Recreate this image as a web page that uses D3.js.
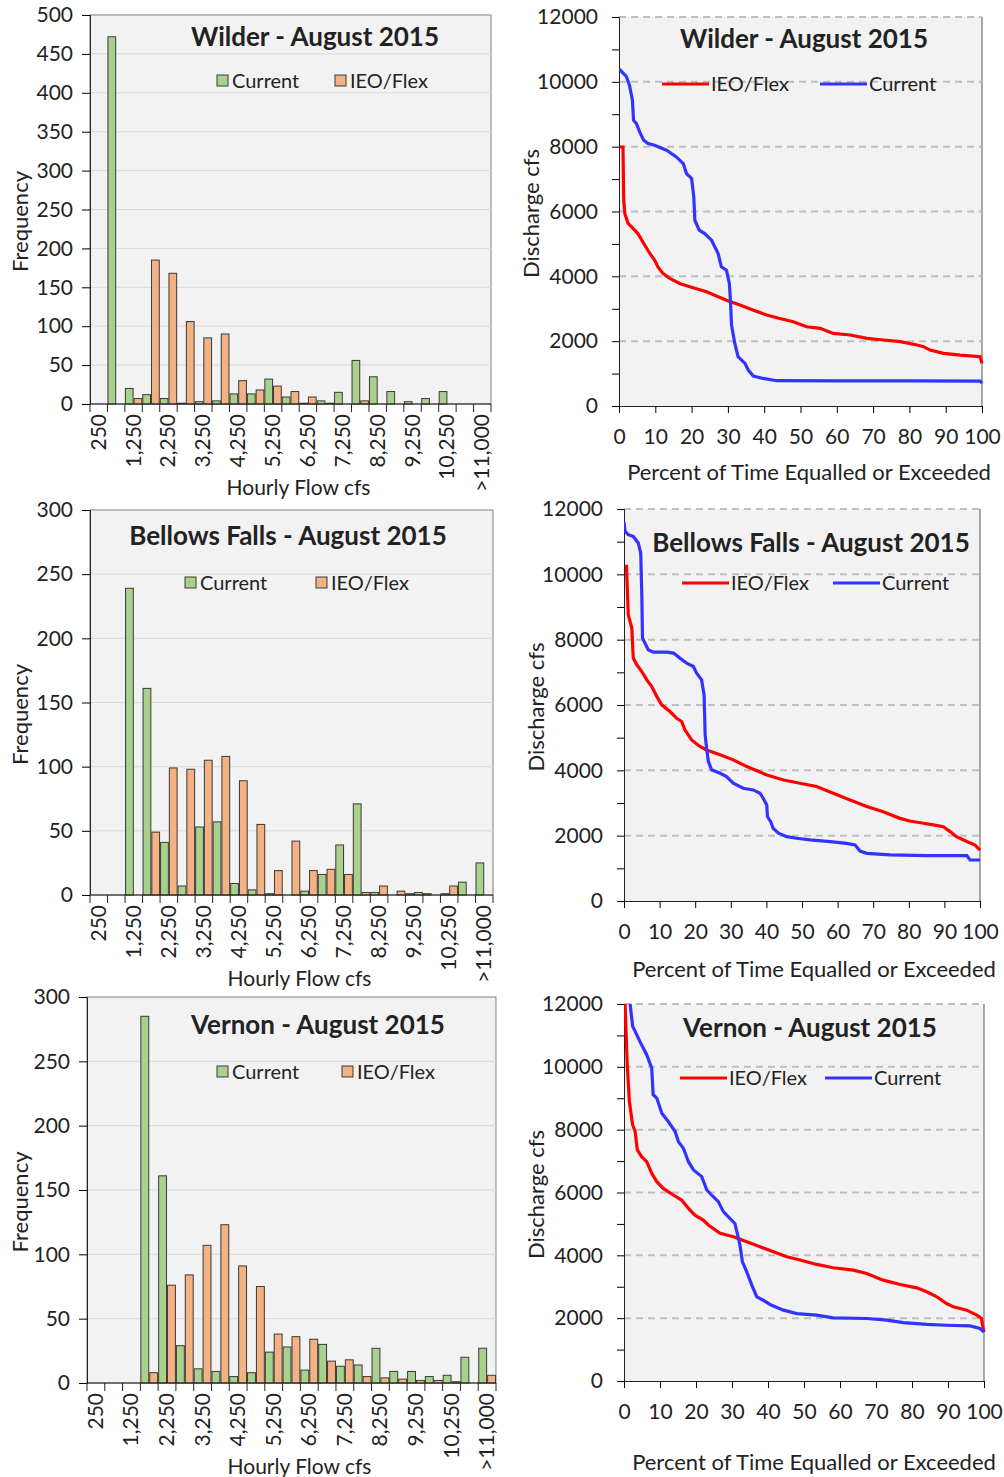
<!DOCTYPE html>
<html>
<head>
<meta charset="utf-8">
<script src="https://cdn.jsdelivr.net/npm/d3@7"></script>
<style>
  body { margin: 0; background: #fff; }
  svg text { font-family: Lato, "Open Sans", sans-serif; fill: #222; }
</style>
</head>
<body>
<script>
// histogram bins (500 cfs wide), labels shown every other bin like Excel does
var binLabels = ["250","750","1,250","1,750","2,250","2,750","3,250","3,750","4,250","4,750",
  "5,250","5,750","6,250","6,750","7,250","7,750","8,250","8,750","9,250","9,750","10,250","10,750",">11,000"];

var wilderCurrent = [0,472,20,12,7,1,3,4,13,13,32,9,1,4,15,56,35,16,3,7,16,0,0];
var wilderIEO     = [0,0,7,185,168,106,85,90,30,18,23,16,9,1,0,4,0,0,0,0,0,0,0];
var bellowsCurrent = [0,0,239,161,41,7,53,57,9,4,1,0,3,16,39,71,2,0,1,1,1,10,25];
var bellowsIEO     = [0,0,0,49,99,98,105,108,89,55,19,42,19,20,16,2,7,3,2,0,7,0,0];
var vernonCurrent = [0,0,0,285,161,29,11,9,5,8,24,28,10,30,13,14,27,9,9,5,6,20,27];
var vernonIEO     = [0,0,0,8,76,84,107,123,91,75,38,36,34,17,18,5,4,3,2,2,1,0,6];

// flow duration curves: [percent of time, discharge cfs]
var wilderDurCurrent = [[0,10400],[2,10170],[2.9,9890],[3.7,9430],[4,8815],[4.8,8710],[5.7,8455],[6.8,8200],
  [8,8095],[9.8,8045],[13.1,7890],[15.8,7685],[17.7,7480],[18.6,7170],[20,7020],[20.6,6450],[20.9,5730],
  [22.1,5425],[23.6,5320],[25.5,5115],[27.3,4705],[28.2,4295],[29.6,4190],[30.4,3780],[30.7,3265],[31,2495],
  [31.9,1930],[32.8,1520],[34.7,1315],[35.6,1110],[37,925],[39.7,850],[43.4,780],[60,775],[80,775],[99.5,770],[100,700]];
var wilderDurIEO = [[0.2,7990],[1.1,7990],[1.3,6350],[1.6,5940],[2.5,5630],[3.4,5530],[5.2,5320],[7.1,4960],
  [8.5,4705],[9.8,4500],[10.7,4295],[12.1,4090],[14,3935],[16.7,3780],[19.5,3680],[24.1,3525],[29.6,3265],
  [33.3,3115],[36.9,2960],[40.7,2805],[44.3,2700],[48,2600],[51.7,2445],[55.4,2395],[59,2240],[63.7,2190],
  [68.3,2085],[72.9,2035],[77.5,1985],[82.1,1880],[83.9,1830],[85.7,1725],[89.4,1625],[94,1570],[99.5,1520],[100,1315]];

var bellowsDurCurrent = [[0,11600],[0.3,11315],[1.2,11215],[2.6,11160],[4,10960],[4.7,10650],[5,9375],[5.2,8050],
  [5.9,7895],[6.8,7690],[8.2,7620],[12,7620],[13.9,7590],[15.7,7435],[17.6,7280],[19.5,7180],[20.4,6975],
  [21.8,6770],[22.5,6310],[22.8,5085],[23.2,4675],[23.7,4270],[24.6,4015],[27,3910],[28.8,3810],[30.7,3605],
  [33.5,3450],[36.3,3400],[38.2,3300],[39.1,3145],[40.1,2940],[40.3,2585],[41.2,2430],[41.9,2225],[43.4,2075],
  [45.7,1970],[48.5,1920],[52.2,1870],[57.9,1820],[62.5,1765],[64.9,1715],[66.3,1530],[68.2,1460],[74.7,1410],
  [85,1390],[96.3,1390],[97.2,1255],[100,1255]];
var bellowsDurIEO = [[0.3,10245],[0.7,10245],[1.2,8760],[2.2,8355],[2.6,7435],[3.6,7230],[5,7025],[6.4,6770],
  [7.8,6565],[9.2,6260],[10.6,6005],[12.9,5800],[14.8,5595],[16.2,5495],[17.1,5240],[19,4930],[21.3,4730],
  [23.2,4625],[27,4475],[30.7,4320],[34.5,4115],[40.1,3860],[44.8,3705],[49.4,3605],[54.1,3505],[58.8,3300],
  [63.5,3095],[68.2,2890],[72.8,2735],[77.5,2530],[80.3,2450],[84.1,2380],[86.9,2330],[89.7,2275],[91.6,2125],
  [93.4,1970],[96.3,1820],[98.6,1715],[100,1560]];

var vernonDurCurrent = [[1.7,12000],[2.4,11290],[3.1,11130],[4.4,10810],[6.3,10385],[7.7,9960],[8.1,9110],
  [9.1,9005],[10.5,8525],[12.3,8260],[14.2,7940],[15.1,7620],[16.5,7410],[17.9,6980],[19.3,6720],[21.6,6505],
  [23,6080],[24.8,5865],[26.2,5710],[27.6,5390],[29.4,5175],[30.8,5015],[31.8,4540],[32.2,4325],[32.9,3795],
  [34.1,3475],[35.5,3050],[36.9,2680],[38.7,2570],[41,2410],[44.3,2255],[48,2145],[53.5,2095],[58.1,2010],
  [67.4,1990],[73,1935],[77.6,1860],[84.1,1805],[89.6,1775],[96.1,1755],[98.9,1670],[100,1560]];
var vernonDurIEO = [[0.3,12000],[0.9,10065],[1.5,8895],[2.4,8150],[3.1,7940],[3.7,7355],[4.9,7140],[6.3,6985],
  [7.7,6610],[9.1,6345],[10.9,6130],[13.7,5920],[16,5760],[17.9,5495],[19.7,5280],[22,5120],[23.4,4965],
  [26.7,4700],[30.4,4590],[34.1,4430],[37.8,4275],[41.5,4115],[45.2,3955],[48.9,3850],[53.5,3710],[58.1,3605],
  [63.7,3530],[67.4,3420],[72,3210],[76.7,3070],[81.3,2965],[84.1,2840],[86.9,2680],[89.6,2465],[91.5,2360],
  [95.2,2255],[98,2095],[99.3,1990],[99.6,1775],[100,1560]];

var W = 1004, H = 1477;
var green = "#a9d18e", orange = "#f4b183", plotBg = "#f2f2f2";

var svg = d3.select("body").append("svg").attr("width", W).attr("height", H);

function drawHist(o) {
  var g = svg.append("g");
  var x = d3.scaleBand().domain(d3.range(binLabels.length)).range([o.x0, o.x1]).padding(0);
  var y = d3.scaleLinear().domain([0, o.ymax]).range([o.y1, o.y0]);
  var sub = d3.scaleBand().domain([0, 1]).range([0, x.bandwidth()]).padding(0);

  g.append("rect").attr("x", o.x0).attr("y", o.y0).attr("width", o.x1 - o.x0).attr("height", o.y1 - o.y0)
    .attr("fill", plotBg).attr("stroke", "#7f7f7f").attr("stroke-width", 1);

  var yt = d3.range(0, o.ymax + 1, 50);
  g.selectAll(".grid").data(yt.slice(1, -1)).enter().append("line")
    .attr("x1", o.x0).attr("x2", o.x1).attr("y1", d => y(d)).attr("y2", d => y(d))
    .attr("stroke", "#d9d9d9").attr("stroke-width", 1);

  [[o.cur, 0, green], [o.ieo, 1, orange]].forEach(function(s) {
    g.selectAll(null).data(s[0].map((v, i) => ({v: v, i: i})).filter(d => d.v > 0)).enter().append("rect")
      .attr("x", d => x(d.i) + sub(s[1]) + 0.5)
      .attr("y", d => y(d.v))
      .attr("width", sub.bandwidth() - 1)
      .attr("height", d => y(0) - y(d.v))
      .attr("fill", s[2]).attr("stroke", "#3a3a3a").attr("stroke-width", 1);
  });

  var ya = g.append("g").attr("transform", "translate(" + o.x0 + ",0)")
    .call(d3.axisLeft(y).tickValues(yt).tickSize(8).tickPadding(9));
  ya.selectAll("text").attr("font-size", 21);
  ya.select(".domain").attr("stroke", "#222");

  // x axis: ticks on bin edges, labels on every other bin
  g.append("line").attr("x1", o.x0).attr("x2", o.x1).attr("y1", o.y1).attr("y2", o.y1).attr("stroke", "#222").attr("stroke-width", 1.2);
  var edges = d3.range(binLabels.length + 1).map(i => i < binLabels.length ? x(i) : o.x1);
  g.selectAll(null).data(edges).enter().append("line")
    .attr("x1", d => d).attr("x2", d => d).attr("y1", o.y1).attr("y2", o.y1 + 8).attr("stroke", "#222");
  g.selectAll(null).data(binLabels.map((l, i) => ({l: l, i: i})).filter(d => d.i % 2 === 0)).enter().append("text")
    .attr("transform", d => "translate(" + (x(d.i) + x.bandwidth() / 2 + 7) + "," + (o.y1 + 10) + ") rotate(-90)")
    .attr("text-anchor", "end").attr("font-size", 21).text(d => d.l);

  g.append("text").attr("x", (o.x0 + o.x1) / 2 + 8).attr("y", o.y1 + 91).attr("text-anchor", "middle")
    .attr("font-size", 21).text("Hourly Flow cfs");
  g.append("text").attr("transform", "translate(28," + ((o.y0 + o.y1) / 2 + 12) + ") rotate(-90)")
    .attr("text-anchor", "middle").attr("font-size", 22).text("Frequency");

  g.append("text").attr("x", o.tx).attr("y", o.y0 + o.ty).attr("text-anchor", "middle")
    .attr("font-size", 26).attr("font-weight", "bold").text(o.title);

  // legend
  var ly = o.y0 + o.ly;
  [[green, "Current", o.lg], [orange, "IEO/Flex", o.lo]].forEach(function(e) {
    g.append("rect").attr("x", e[2]).attr("y", ly - 13).attr("width", 11).attr("height", 11)
      .attr("fill", e[0]).attr("stroke", "#3a3a3a");
    g.append("text").attr("x", e[2] + 15).attr("y", ly).attr("font-size", 20).text(e[1]);
  });
}

function drawDur(o) {
  var g = svg.append("g");
  var x = d3.scaleLinear().domain([0, 100]).range([o.x0, o.x1]);
  var y = d3.scaleLinear().domain([0, 12000]).range([o.y1, o.y0]);

  g.append("rect").attr("x", o.x0).attr("y", o.y0).attr("width", o.x1 - o.x0).attr("height", o.y1 - o.y0)
    .attr("fill", plotBg);
  g.append("line").attr("x1", o.x1).attr("x2", o.x1).attr("y1", o.y0).attr("y2", o.y1).attr("stroke", "#595959");
  g.selectAll(null).data(d3.range(2000, 12001, 2000)).enter().append("line")
    .attr("x1", o.x0).attr("x2", o.x1).attr("y1", d => y(d)).attr("y2", d => y(d))
    .attr("stroke", "#bfbfbf").attr("stroke-width", 2).attr("stroke-dasharray", "7,5");

  var ya = g.append("g").attr("transform", "translate(" + o.x0 + ",0)")
    .call(d3.axisLeft(y).tickValues(d3.range(0, 12001, 1000)).tickSize(7).tickPadding(14)
      .tickFormat(d => d % 2000 === 0 ? d : ""));
  ya.selectAll("text").attr("font-size", 21);
  var xa = g.append("g").attr("transform", "translate(0," + o.y1 + ")")
    .call(d3.axisBottom(x).tickValues(d3.range(0, 101, 10)).tickSize(7).tickPadding(16));
  xa.selectAll("text").attr("font-size", 21);
  g.selectAll(".domain").attr("stroke", "#222");

  var clipId = "c" + o.id;
  svg.append("clipPath").attr("id", clipId).append("rect")
    .attr("x", o.x0).attr("y", o.y0 - 2).attr("width", o.x1 - o.x0 + 3).attr("height", o.y1 - o.y0 + 2);
  var line = d3.line().x(d => x(d[0])).y(d => y(d[1]));
  g.append("path").datum(o.ieo).attr("d", line).attr("fill", "none").attr("stroke", "#ff0000")
    .attr("stroke-width", 3.2).attr("clip-path", "url(#" + clipId + ")");
  g.append("path").datum(o.cur).attr("d", line).attr("fill", "none").attr("stroke", "#3333ff")
    .attr("stroke-width", 3.2).attr("clip-path", "url(#" + clipId + ")");

  g.append("text").attr("x", o.tx).attr("y", o.y0 + o.ty).attr("text-anchor", "middle")
    .attr("font-size", 26).attr("font-weight", "bold").text(o.title);

  var ly = o.y0 + o.ly;
  [["#ff0000", "IEO/Flex", o.lr], ["#3333ff", "Current", o.lb]].forEach(function(e) {
    g.append("line").attr("x1", e[2]).attr("x2", e[2] + 47).attr("y1", ly - 7).attr("y2", ly - 7)
      .attr("stroke", e[0]).attr("stroke-width", 3);
    g.append("text").attr("x", e[2] + 49).attr("y", ly).attr("font-size", 20).text(e[1]);
  });

  g.append("text").attr("x", o.x0 + 190).attr("y", o.axy).attr("text-anchor", "middle")
    .attr("font-size", 22).text("Percent of Time Equalled or Exceeded");
  g.append("text").attr("transform", "translate(" + (o.x0 - 80) + "," + ((o.y0 + o.y1) / 2 + 2) + ") rotate(-90)")
    .attr("text-anchor", "middle").attr("font-size", 22).text("Discharge cfs");
}

drawHist({x0: 90, x1: 491, y0: 15, y1: 404, ymax: 500, cur: wilderCurrent, ieo: wilderIEO,
  title: "Wilder - August 2015", tx: 315, ty: 31, ly: 73, lg: 217, lo: 335});
drawHist({x0: 90, x1: 493, y0: 510, y1: 895, ymax: 300, cur: bellowsCurrent, ieo: bellowsIEO,
  title: "Bellows Falls - August 2015", tx: 288, ty: 35, ly: 80, lg: 185, lo: 316});
drawHist({x0: 87, x1: 496, y0: 997, y1: 1383, ymax: 300, cur: vernonCurrent, ieo: vernonIEO,
  title: "Vernon - August 2015", tx: 318, ty: 37, ly: 82, lg: 217, lo: 342});

drawDur({id: 1, x0: 619, x1: 982, y0: 17, y1: 406, cur: wilderDurCurrent, ieo: wilderDurIEO,
  title: "Wilder - August 2015", tx: 804, ty: 31, ly: 74, lr: 662, lb: 820, axy: 480});
drawDur({id: 2, x0: 624, x1: 980, y0: 509, y1: 901, cur: bellowsDurCurrent, ieo: bellowsDurIEO,
  title: "Bellows Falls - August 2015", tx: 811, ty: 43, ly: 81, lr: 682, lb: 833, axy: 977});
drawDur({id: 3, x0: 624, x1: 984, y0: 1004, y1: 1381, cur: vernonDurCurrent, ieo: vernonDurIEO,
  title: "Vernon - August 2015", tx: 810, ty: 33, ly: 81, lr: 680, lb: 825, axy: 1470});
</script>
</body>
</html>
